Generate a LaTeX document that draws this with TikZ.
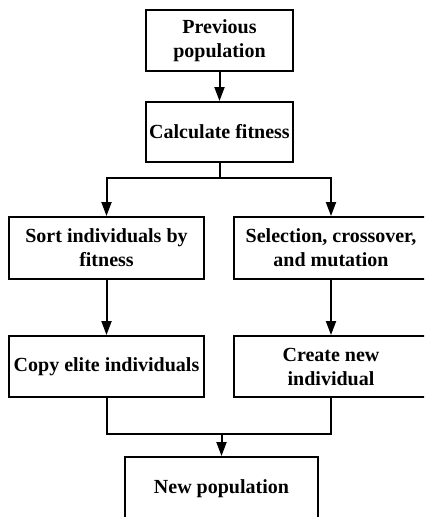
\documentclass[tikz,border=0pt]{standalone}
\usepackage{fontspec}
\setmainfont{Liberation Serif}
\usetikzlibrary{arrows.meta}
\tikzset{
  box/.style={draw, line width=2pt, rectangle, align=center, inner sep=0pt,
    font=\bfseries\fontsize{20}{24}\selectfont},
  arr/.style={line width=2pt, -{Triangle[length=14pt,width=10pt]}},
  ln/.style={line width=2pt}
}
\begin{document}
\begin{tikzpicture}[x=1pt,y=-1pt]
\useasboundingbox (0,0) rectangle (424,517);
\clip (0,0) rectangle (424,517);
\node[box, minimum width=147pt, minimum height=61pt] (n1) at (219.5,40.5) {Previous\\population};
\node[box, minimum width=147pt, minimum height=60pt] (n2) at (219.5,132) {Calculate fitness};
\node[box, minimum width=195pt, minimum height=62pt] (n3) at (106.5,248) {Sort individuals by\\fitness};
\node[box, minimum width=194pt, minimum height=62pt] (n4) at (331,248) {Selection, crossover,\\and mutation};
\node[box, minimum width=195pt, minimum height=61pt] (n5) at (106.5,366.5) {Copy elite individuals};
\node[box, minimum width=194pt, minimum height=61pt] (n6) at (331,366.5) {Create new\\individual};
\node[box, minimum width=193pt, minimum height=64pt] (n7) at (221.5,489) {New population};
\coordinate (s) at (219.5,178);
\coordinate (m) at (221.5,434);
\draw[arr] (n1) -- (n2);
\draw[ln] (n2.south) -- (s);
\draw[arr] (s) -| (n3.north);
\draw[arr] (s) -| (n4.north);
\draw[arr] (n3) -- (n5);
\draw[arr] (n4) -- (n6);
\draw[ln] (n5.south) |- (m) -| (n6.south);
\draw[arr] (m) -- (n7.north);
\end{tikzpicture}
\end{document}
